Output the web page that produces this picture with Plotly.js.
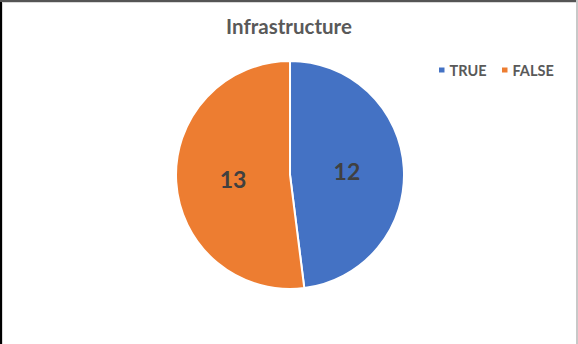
<!DOCTYPE html>
<html>
<head>
<meta charset="utf-8">
<script src="https://cdn.plot.ly/plotly-3.0.1.min.js"></script>
<style>
html,body{margin:0;padding:0;background:#fff;}
#wrap{position:relative;width:578px;height:344px;overflow:hidden;}
#chart{position:absolute;left:0;top:0;width:578px;height:344px;}
.edge{position:absolute;pointer-events:none;}
</style>
</head>
<body>
<div id="wrap">
<div id="chart"></div>
<div class="edge" style="left:0;top:0;width:2px;height:344px;background:#000;"></div>
<div class="edge" style="left:0;top:0;width:578px;height:2px;background:#555;"></div>
<div class="edge" style="left:2px;top:2px;width:1px;height:342px;background:#d9d9d9;"></div>
<div class="edge" style="left:2px;top:2px;width:576px;height:1px;background:#d9d9d9;"></div>
<div class="edge" style="left:576px;top:0;width:2px;height:344px;background:#c8c8c8;"></div>
</div>
<script>
const categories = ["TRUE", "FALSE"];
const values = [12, 13];
const colors = ["#4472C4", "#ED7D31"];
const chartTitle = "Infrastructure";

const data = [{
  type: "pie",
  labels: categories,
  values: values,
  sort: false,
  direction: "clockwise",
  rotation: 0,
  marker: {colors: colors, line: {color: "#ffffff", width: 2}},
  textinfo: "value",
  textposition: "inside",
  insidetextorientation: "horizontal",
  textfont: {family: "Lato, 'Open Sans', sans-serif", size: 23, color: "#404040", weight: "bold"},
  domain: {x: [0.3045, 0.699], y: [0.1599, 0.8227]},
  hoverinfo: "none"
}];

const layout = {
  width: 578,
  height: 344,
  margin: {l: 0, r: 0, t: 0, b: 0, autoexpand: false},
  paper_bgcolor: "#ffffff",
  title: {
    text: "<b>" + chartTitle + "</b>",
    font: {family: "Lato, 'Open Sans', sans-serif", size: 20.5, color: "#595959"},
    x: 0.5, xanchor: "center",
    y: 0.922, yanchor: "middle"
  },
  showlegend: true,
  legend: {
    orientation: "h",
    x: 0.7, xanchor: "left",
    y: 0.797, yanchor: "middle",
    font: {family: "Lato, 'Open Sans', sans-serif", size: 14.5, color: "#595959", weight: "bold"},
    tracegroupgap: 0
  }
};

// legend item placement (pixels): square left edge, vertical centre
const legendItemX = [439, 502];
const legendItemY = 70;

Plotly.newPlot("chart", data, layout, {displayModeBar: false, staticPlot: true}).then(function(gd){
  const leg = gd.querySelector("g.legend");
  if (!leg) return;
  leg.setAttribute("transform", "translate(0,0)");
  leg.querySelectorAll("[clip-path]").forEach(function(el){ el.removeAttribute("clip-path"); });
  const sb = leg.querySelector(".scrollbox");
  if (sb) sb.setAttribute("transform", "translate(0,0)");
  const bg = leg.querySelector("rect.bg");
  if (bg) bg.setAttribute("width", 0);
  leg.querySelectorAll("g.traces").forEach(function(tr, i){
    tr.setAttribute("transform", "translate(" + legendItemX[i] + "," + legendItemY + ")");
    tr.querySelectorAll(".legendpoints path").forEach(function(p){
      p.setAttribute("d", "M0,-2.5H5.5V2.5H0Z");
      p.setAttribute("transform", "translate(0,0)");
      p.style.strokeWidth = "0";
    });
    const t = tr.querySelector("text.legendtext");
    if (t) t.setAttribute("x", 10.5);
  });
});
</script>
</body>
</html>
